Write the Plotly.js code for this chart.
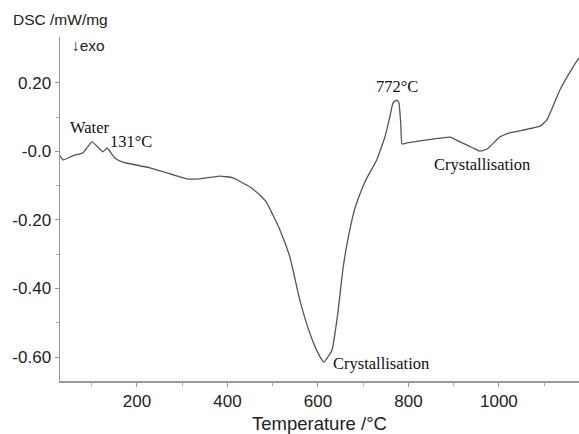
<!DOCTYPE html>
<html><head><meta charset="utf-8">
<script src="https://cdn.plot.ly/plotly-3.0.1.min.js"></script>
<style>html,body{margin:0;padding:0;background:#fff}#c{width:579px;height:434px}</style>
</head><body><div id="c"></div>
<script>
var temperature = [30,37,59,74,81,101,125,134,151,169,229,310,339,383,412,450,476,487,516,538,560,582,600,613,631,644,655,663,671,682,697,708,730,748,759,766,775,779,783,786,797,854,892,914,943,958,974,1002,1024,1091,1106,1135,1164,1177];
var dsc = [-0.012,-0.025,-0.012,-0.007,-0.004,0.028,-0.001,0.010,-0.019,-0.031,-0.048,-0.080,-0.080,-0.072,-0.077,-0.104,-0.133,-0.150,-0.229,-0.308,-0.434,-0.530,-0.588,-0.615,-0.580,-0.472,-0.346,-0.280,-0.225,-0.165,-0.110,-0.078,-0.025,0.042,0.101,0.142,0.150,0.142,0.083,0.022,0.025,0.036,0.042,0.028,0.010,0.001,0.007,0.042,0.054,0.074,0.092,0.180,0.247,0.273];
var xTickVals = [200,400,600,800,1000];
var xTickText = ["200","400","600","800","1000"];
var xMinorVals = [100,300,500,700,900,1100];
var yTickVals = [0.2,0,-0.2,-0.4,-0.6];
var yTickText = ["0.20","-0.0","-0.20","-0.40","-0.60"];
var yMinorVals = [0.1,-0.1,-0.3,-0.5];
var xTitle = "Temperature /°C";
var yTitle = "DSC /mW/mg";
var labels = [
  {text:"Water", x:47, y:0.069, anchor:"left"},
  {text:"131°C", x:136, y:0.028, anchor:"left"},
  {text:"772°C", x:775, y:0.191, anchor:"center"},
  {text:"Crystallisation", x:852, y:-0.039, anchor:"left"},
  {text:"Crystallisation", x:629, y:-0.618, anchor:"left"}
];

var serif = {family:"Liberation Serif, Times New Roman, serif", size:16.5, color:"#111"};
var anns = labels.map(function(l){
  return {text:l.text, x:l.x, y:l.y, xref:"x", yref:"y", xanchor:l.anchor, yanchor:"middle", showarrow:false, font:serif};
});
var sans = {family:"Liberation Sans, Arial, sans-serif", size:15.5, color:"#222"};
anns.push({text:yTitle, xref:"paper", yref:"paper", x:-0.094, y:1.0, yshift:18, xanchor:"left", yanchor:"middle", showarrow:false, font:sans});
anns.push({text:"↓exo", xref:"paper", yref:"paper", x:0.02, y:1.0, yshift:-8, xanchor:"left", yanchor:"middle", showarrow:false, font:sans});
anns.push({text:xTitle, xref:"paper", yref:"paper", x:0.5, y:0, yshift:-30, xanchor:"center", yanchor:"top", showarrow:false, font:{family:"Liberation Sans, Arial, sans-serif", size:18.5, color:"#222"}});

Plotly.newPlot("c", [{
  x: temperature, y: dsc, type:"scatter", mode:"lines",
  line:{color:"#555", width:1.3, shape:"spline", smoothing:0.4}, hoverinfo:"none"
}], {
  width:579, height:434,
  margin:{l:60, r:0, t:37, b:53},
  paper_bgcolor:"#fff", plot_bgcolor:"#fff",
  showlegend:false,
  font:{family:"Liberation Sans, Arial, sans-serif", size:16, color:"#222"},
  xaxis:{range:[30,1177], showgrid:false, zeroline:false, showline:true, linecolor:"#999", linewidth:1.5,
    tickmode:"array", tickvals:xTickVals, ticktext:xTickText, ticks:"outside", ticklen:4, tickcolor:"#999",
    minor:{tickvals:xMinorVals, ticks:"outside", ticklen:3, tickcolor:"#aaa", showgrid:false},
    tickfont:{size:17, color:"#222"}},
  yaxis:{range:[-0.670,0.334], showgrid:false, zeroline:false, showline:true, linecolor:"#999", linewidth:1.5,
    tickmode:"array", tickvals:yTickVals, ticktext:yTickText, ticks:"outside", ticklen:4, tickcolor:"#999",
    minor:{tickvals:yMinorVals, ticks:"outside", ticklen:3, tickcolor:"#aaa", showgrid:false},
    tickfont:{size:17, color:"#222"}},
  annotations: anns
}, {staticPlot:true});
</script></body></html>
